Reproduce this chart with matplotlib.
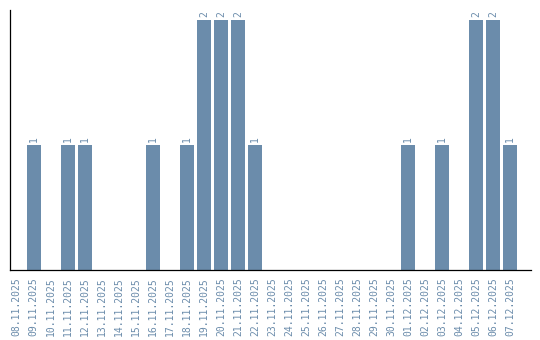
import matplotlib
matplotlib.use("Agg")
import matplotlib.pyplot as plt

dates = ["08.11.2025", "09.11.2025", "10.11.2025", "11.11.2025", "12.11.2025",
         "13.11.2025", "14.11.2025", "15.11.2025", "16.11.2025", "17.11.2025",
         "18.11.2025", "19.11.2025", "20.11.2025", "21.11.2025", "22.11.2025",
         "23.11.2025", "24.11.2025", "25.11.2025", "26.11.2025", "27.11.2025",
         "28.11.2025", "29.11.2025", "30.11.2025", "01.12.2025", "02.12.2025",
         "03.12.2025", "04.12.2025", "05.12.2025", "06.12.2025", "07.12.2025"]
counts = [0, 1, 0, 1, 1, 0, 0, 0, 1, 0,
          1, 2, 2, 2, 1, 0, 0, 0, 0, 0,
          0, 0, 0, 1, 0, 1, 0, 2, 2, 1]

color = '#6b8cab'

fig = plt.figure(figsize=(5.4, 3.4), dpi=100)
ax = fig.add_axes([0.019, 0.205, 0.964, 0.7656])

x = list(range(len(dates)))
ax.bar(x, counts, width=0.84, color=color)

# value labels above non-zero bars
for xi, c in zip(x, counts):
    if c > 0:
        ax.text(xi, c + 0.02, str(c), rotation=90, ha='center', va='bottom',
                color=color, fontsize=7, family='DejaVu Sans Mono')

ax.set_xlim(-0.38, 30.22)
ax.set_ylim(0, 2.077)
ax.set_xticks(x)
ax.set_xticklabels(dates, rotation=90, fontsize=7, color=color,
                   family='DejaVu Sans Mono')
ax.set_yticks([])
ax.tick_params(axis='x', length=0, pad=4.8)
ax.spines['top'].set_visible(False)
ax.spines['right'].set_visible(False)
ax.spines['left'].set_linewidth(0.9)
ax.spines['bottom'].set_linewidth(0.9)

fig.savefig('out.png', dpi=100)
